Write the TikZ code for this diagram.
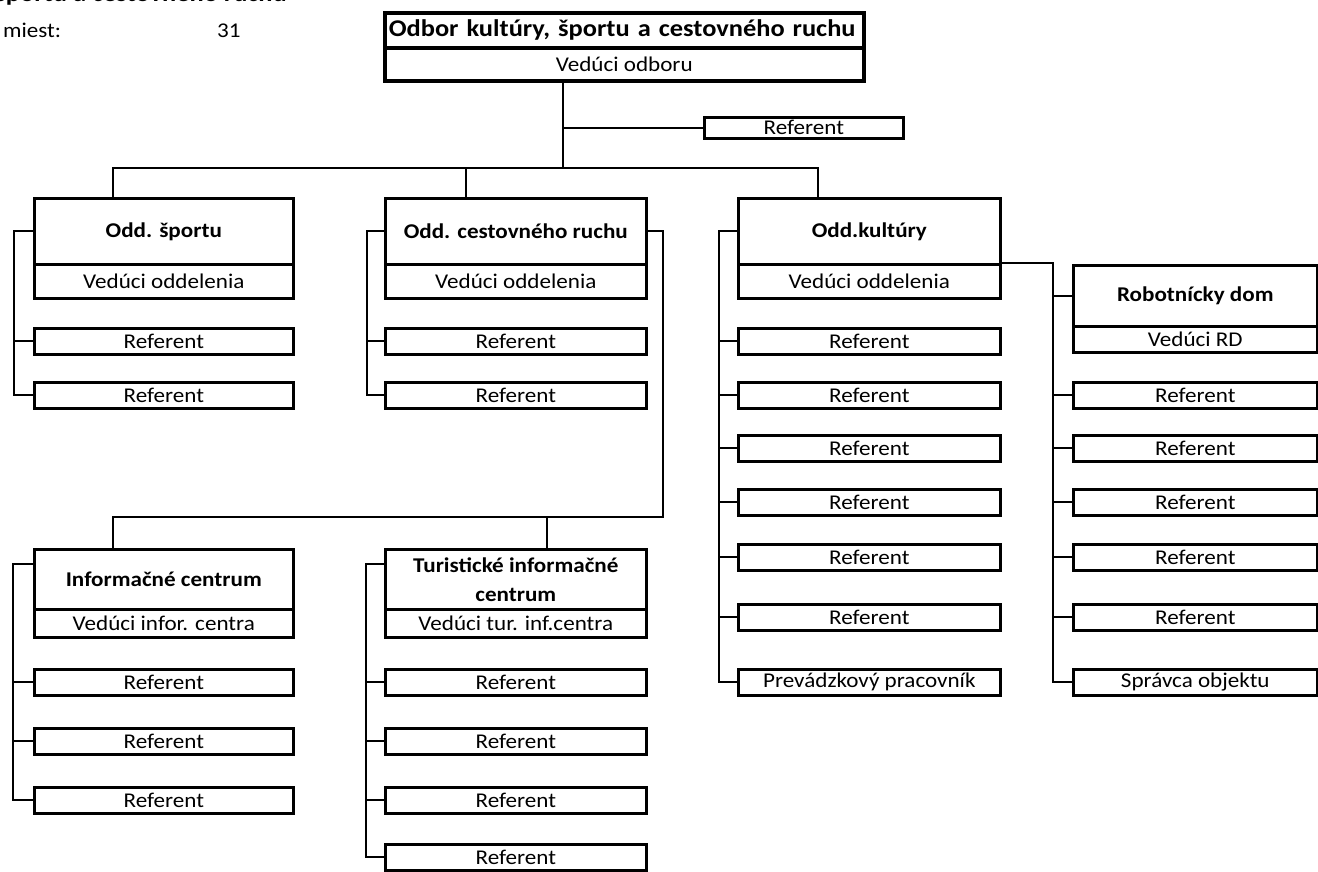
\documentclass[tikz,border=0pt]{standalone}
\usepackage{fontspec}
\setmainfont{Carlito}[FakeStretch=1.1]
\begin{document}
\begin{tikzpicture}[x=1pt,y=-1pt]
\tikzset{
  bx/.style={draw, line width=2.6pt, inner sep=0pt, anchor=north west, align=center,
             font=\fontsize{21}{25}\selectfont},
  hd/.style={bx, font=\fontsize{21}{29}\selectfont\bfseries},
  ln/.style={line width=2.3pt},
}
\useasboundingbox[fill=white] (0,0) rectangle (1318,872);
\clip (0,0) rectangle (1318,872);

% header texts
\node[anchor=base east, inner sep=0pt, font=\fontsize{24}{28}\selectfont\bfseries] (cut) at (287,1.5) {športu a cestovného ruchu};
\node[anchor=base west, inner sep=0pt, font=\fontsize{21}{25}\selectfont] (mi) at (3,38) {miest:};
\node[anchor=base west, inner sep=0pt, font=\fontsize{21}{25}\selectfont] (n31) at (217,38) {31};

% top
\node[bx, line width=3.6pt, minimum width=479, minimum height=35, text width=471, align=left,
      font=\fontsize{24}{28}\selectfont\bfseries] (ot) at (383,11) {Odbor kultúry, športu a cestovného ruchu};
\node[bx, line width=3.6pt, minimum width=479, minimum height=33] (ol) at (383,46) {Vedúci odboru};
\node[bx, minimum width=199, minimum height=21] (tr) at (703,116) {Referent};

% column 1
\node[hd, minimum width=259, minimum height=66] (sp) at (33,197) {Odd. športu};
\node[bx, minimum width=259, minimum height=34] (spl) at (33,263) {Vedúci oddelenia};
\node[bx, minimum width=259, minimum height=26] (s1) at (33,327) {Referent};
\node[bx, minimum width=259, minimum height=26] (s2) at (33,381) {Referent};

% column 2
\node[hd, minimum width=261, minimum height=66] (cr) at (384,197) {Odd. cestovného ruchu};
\node[bx, minimum width=261, minimum height=34] (crl) at (384,263) {Vedúci oddelenia};
\node[bx, minimum width=261, minimum height=26] (c1) at (384,327) {Referent};
\node[bx, minimum width=261, minimum height=26] (c2) at (384,381) {Referent};

% column 3
\node[hd, minimum width=262, minimum height=66] (ku) at (737,197) {Odd.kultúry};
\node[bx, minimum width=262, minimum height=34] (kul) at (737,263) {Vedúci oddelenia};
\foreach \i/\y in {1/327,2/381,3/434,4/488,5/543,6/603}
  \node[bx, minimum width=262, minimum height=26] (k\i) at (737,\y) {Referent};
\node[bx, minimum width=262, minimum height=26] (k7) at (737,668) {Prevádzkový pracovník};

% column 4
\node[hd, minimum width=244, minimum height=61] (rd) at (1072,264) {Robotnícky dom};
\node[bx, minimum width=244, minimum height=26] (rdl) at (1072,325) {Vedúci RD};
\foreach \i/\y in {1/381,2/434,3/488,4/543,5/603}
  \node[bx, minimum width=244, minimum height=26] (r\i) at (1072,\y) {Referent};
\node[bx, minimum width=244, minimum height=26] (r6) at (1072,668) {Správca objektu};

% bottom columns
\node[hd, minimum width=259, minimum height=60] (ic) at (33,548) {Informačné centrum};
\node[bx, minimum width=259, minimum height=28] (icl) at (33,608) {Vedúci infor. centra};
\foreach \i/\y in {1/668,2/727,3/786}
  \node[bx, minimum width=259, minimum height=26] (i\i) at (33,\y) {Referent};

\node[hd, minimum width=261, minimum height=60] (ti) at (384,548) {Turistické informačné\\centrum};
\node[bx, minimum width=261, minimum height=28] (til) at (384,608) {Vedúci tur. inf.centra};
\foreach \i/\y in {1/668,2/727,3/786,4/843}
  \node[bx, minimum width=261, minimum height=26] (t\i) at (384,\y) {Referent};

% connectors: top
\coordinate (j) at (563,168);
\coordinate (bL) at (113,168);
\coordinate (bM) at (466,168);
\coordinate (bR) at (818,168);
\draw[ln] (ol.south -| j) -- (j);
\draw[ln] (tr.west -| j) -- (tr.west);
\draw[ln] (sp.north -| bL) -- (bL) -- (bR) -- (ku.north -| bR);
\draw[ln] (bM) -- (cr.north -| bM);

% rails column 1
\coordinate (x1) at (14,0);
\draw[ln] (sp.west) -- (sp.west -| x1) |- (s2.west);
\draw[ln] (s1.west -| x1) -- (s1.west);
% rails column 2
\coordinate (x2) at (367,0);
\draw[ln] (cr.west) -- (cr.west -| x2) |- (c2.west);
\draw[ln] (c1.west -| x2) -- (c1.west);
% rails column 3
\coordinate (x3) at (719,0);
\draw[ln] (ku.west) -- (ku.west -| x3) |- (k7.west);
\foreach \i in {1,...,6} \draw[ln] (k\i.west -| x3) -- (k\i.west);
% column 3 -> column 4
\coordinate (x4) at (1053,0);
\draw[ln] (kul.north east) -- (kul.north east -| x4) |- (r6.west);
\draw[ln] (rd.west -| x4) -- (rd.west);
\foreach \i in {1,...,5} \draw[ln] (r\i.west -| x4) -- (r\i.west);

% column 2 -> bottom
\coordinate (x5) at (663,517);
\coordinate (bT) at (547,517);
\draw[ln] (cr.east) -| (x5) -- (x5 -| bL) -- (ic.north -| bL);
\draw[ln] (bT) -- (ti.north -| bT);

% bottom rails
\coordinate (icw) at ([yshift=15pt]ic.west);
\coordinate (tiw) at ([yshift=15pt]ti.west);
\coordinate (x6) at (13,0);
\coordinate (x7) at (366,0);
\draw[ln] (icw) -- (icw -| x6) |- (i3.west);
\foreach \i in {1,2} \draw[ln] (i\i.west -| x6) -- (i\i.west);
\draw[ln] (tiw) -- (tiw -| x7) |- (t4.west);
\foreach \i in {1,2,3} \draw[ln] (t\i.west -| x7) -- (t\i.west);
\end{tikzpicture}
\end{document}
